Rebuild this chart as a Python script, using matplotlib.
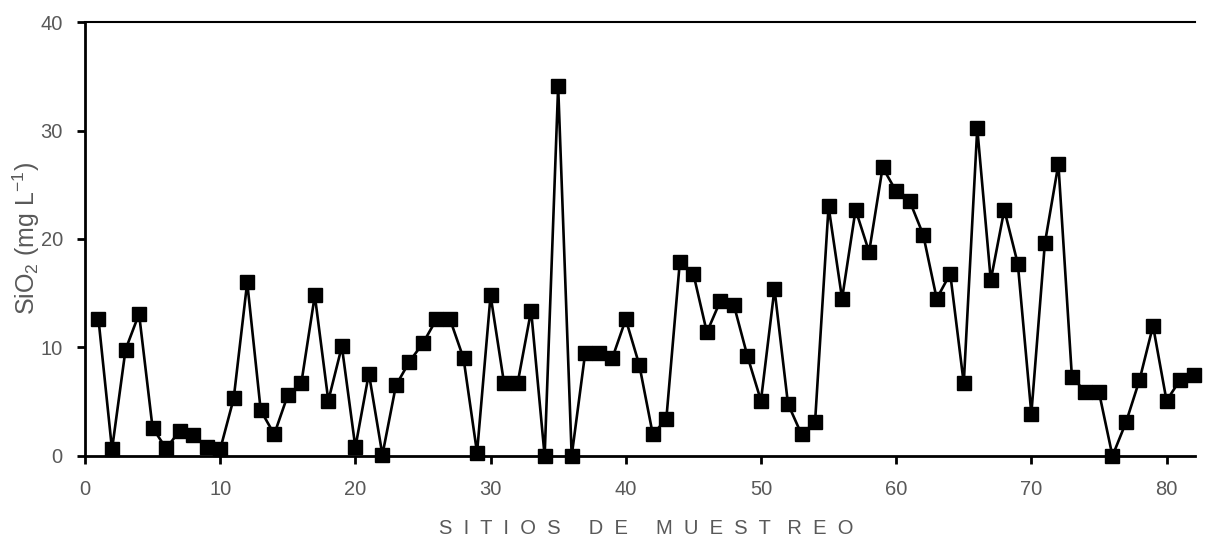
import matplotlib.pyplot as plt

# site number and SiO2 concentration (mg/L)
sitios = list(range(1, 83))
sio2 = [12.6, 0.6, 9.8, 13.1, 2.6, 0.7, 2.3, 1.9, 0.8, 0.6,
        5.3, 16.0, 4.2, 2.0, 5.6, 6.7, 14.8, 5.1, 10.1, 0.8,
        7.6, 0.1, 6.5, 8.7, 10.4, 12.6, 12.6, 9.0, 0.3, 14.8,
        6.7, 6.7, 13.4, 0.0, 34.1, 0.0, 9.5, 9.5, 9.0, 12.6,
        8.4, 2.0, 3.4, 17.9, 16.8, 11.4, 14.3, 13.9, 9.2, 5.1,
        15.4, 4.8, 2.0, 3.1, 23.0, 14.5, 22.7, 18.8, 26.6, 24.4,
        23.5, 20.4, 14.5, 16.8, 6.7, 30.2, 16.2, 22.7, 17.7, 3.9,
        19.6, 26.9, 7.3, 5.9, 5.9, 0.0, 3.1, 7.0, 12.0, 5.1,
        7.0, 7.5]
xticks = [0, 10, 20, 30, 40, 50, 60, 70, 80]
yticks = [0, 10, 20, 30, 40]

plt.rcParams['font.family'] = ['Liberation Sans', 'DejaVu Sans']
plt.rcParams['mathtext.fontset'] = 'custom'
plt.rcParams['mathtext.rm'] = 'Liberation Sans'
plt.rcParams['mathtext.default'] = 'regular'

fig = plt.figure(figsize=(12.07, 5.42), dpi=100)
ax = fig.add_axes([0.0704, 0.1587, 0.9196, 0.8007])

ax.plot(sitios, sio2, color='black', lw=1.9, marker='s', markersize=9.5,
        markerfacecolor='black', markeredgecolor='black', clip_on=False, zorder=3)

ax.set_xlim(0, 82.1)
ax.set_ylim(0, 40)
ax.set_xticks(xticks)
ax.set_yticks(yticks)

for side in ['left', 'bottom']:
    ax.spines[side].set_linewidth(2)
ax.spines['top'].set_linewidth(1.5)
ax.spines['right'].set_visible(False)

ax.tick_params(axis='both', direction='out', length=6, width=2,
               labelsize=14.5, labelcolor='#595959')
ax.tick_params(axis='y', pad=10)
ax.tick_params(axis='x', pad=11)

ax.set_xlabel('S  I  T  I  O  S     D  E     M  U  E  S  T   R  E  O', fontsize=14.5,
              color='#595959')
ax.xaxis.set_label_coords(0.506, -0.145)
ax.set_ylabel('SiO$_2$ (mg L$^{-1}$)', fontsize=18, color='#595959')
ax.yaxis.set_label_coords(-0.039, 0.5)

plt.savefig('out.png', dpi=100)
